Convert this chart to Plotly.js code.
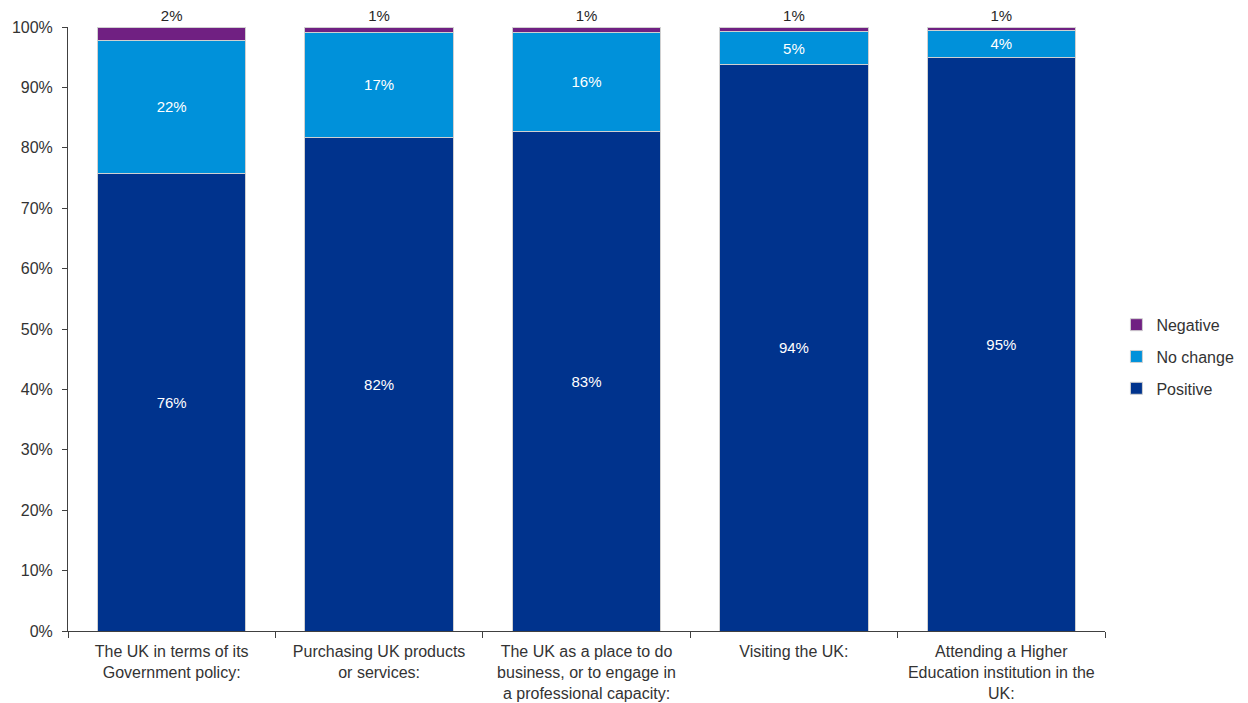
<!DOCTYPE html>
<html>
<head>
<meta charset="utf-8">
<script src="https://cdn.plot.ly/plotly-3.0.1.min.js"></script>
<style>html,body{margin:0;padding:0;background:#fff;}#chart{width:1248px;height:703px;}</style>
</head>
<body>
<div id="chart"></div>
<script>
const categories = [
  "The UK in terms of its<br>Government policy:",
  "Purchasing UK products<br>or services:",
  "The UK as a place to do<br>business, or to engage in<br>a professional capacity:",
  "Visiting the UK:",
  "Attending a Higher<br>Education institution in the<br>UK:"
];
const positive = [75.8, 81.7, 82.7, 93.8, 95.0];
const noChange = [22.0, 17.4, 16.4, 5.4, 4.4];
const negative = [2.2, 0.9, 0.9, 0.8, 0.6];
const yTicks = [0,10,20,30,40,50,60,70,80,90,100];

const fnt = "Liberation Sans, Arial, sans-serif";
const lbl = v => v.map(x => Math.round(x) + "%");
const line = {color: "#d0d0d0", width: 1};

const traces = [
  {type: "bar", name: "Positive", legendgroup: "p", legendrank: 3, x: categories, y: positive, text: lbl(positive),
   textposition: "inside", insidetextanchor: "middle",
   textfont: {color: "#ffffff", size: 15, family: fnt},
   marker: {color: "#00338D", line: line}},
  {type: "bar", name: "No change", legendgroup: "n", legendrank: 2, x: categories, y: noChange, text: lbl(noChange),
   textposition: "inside", insidetextanchor: "middle",
   textfont: {color: "#ffffff", size: 15, family: fnt},
   marker: {color: "#0091DA", line: line}},
  {type: "bar", name: "Negative", legendgroup: "g", legendrank: 1, x: categories, y: negative, text: lbl(negative),
   textposition: "outside", cliponaxis: false,
   textfont: {color: "#262626", size: 15, family: fnt},
   marker: {color: "#702082", line: line}}
];

const layout = {
  width: 1248, height: 703,
  barmode: "stack", bargap: 0.285,
  margin: {l: 68, r: 143, t: 27, b: 72, autoexpand: false},
  paper_bgcolor: "#fff", plot_bgcolor: "#fff",
  font: {family: fnt, size: 16, color: "#333333"},
  xaxis: {showline: true, linecolor: "#404040", linewidth: 1,
          ticks: "outside", tickson: "boundaries", ticklen: 6, tickcolor: "#404040",
          ticklabelstandoff: 6,
          tickfont: {size: 16, color: "#333333"}, showgrid: false},
  yaxis: {range: [0, 100], tickvals: yTicks, ticktext: yTicks.map(t => t + "%"),
          showline: true, linecolor: "#404040", linewidth: 1,
          ticks: "outside", ticklen: 5, tickcolor: "#404040",
          ticklabelstandoff: 6,
          tickfont: {size: 16, color: "#333333"}, showgrid: false, zeroline: false},
  legend: {x: 1.011, y: 0.454, yanchor: "middle", xanchor: "left",
           traceorder: "grouped", tracegroupgap: 8,
           font: {size: 16, color: "#333333"}, itemwidth: 30},
  showlegend: true
};

Plotly.newPlot("chart", traces, layout, {displayModeBar: false, staticPlot: true});
</script>
</body>
</html>
